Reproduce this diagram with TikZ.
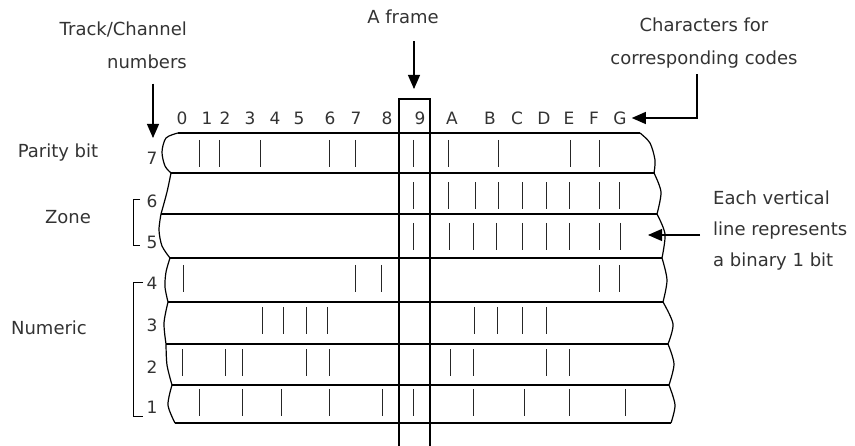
\documentclass[tikz,border=0pt]{standalone}
\usepackage{fontspec}
\setmainfont{DejaVu Sans}
\usetikzlibrary{arrows.meta}

\begin{document}
\begin{tikzpicture}[
		x=1pt, y=-1pt
		,lbl/.style={font=\fontsize{18}{33}\selectfont, text=black!80, inner sep=3pt}
		,num/.style={font=\fontsize{17}{20}\selectfont, text=black!80, inner sep=1pt}
		,tape/.style={line width=1.2pt}
		,bit/.style={line width=1pt, black!85}
		,brk/.style={line width=.9pt}
		,arr/.style={line width=1.1pt, -{Triangle[length=14pt,width=12pt]}}
	]
		\useasboundingbox (0,0) rectangle (855,446);

		% texts round the tape
		\node[lbl, align=right, anchor=east] (trk) at (190,45) {Track/Channel\\numbers};
		\node[lbl] (fr) at (403,17) {A frame};
		\node[lbl, align=center] (chr) at (704,43) {Characters for\\corresponding codes};
		\node[lbl, align=left, anchor=west, font=\fontsize{18}{31}\selectfont] (ev) at (710,231) {Each vertical\\line represents\\a binary 1 bit};
		\node[lbl] (par) at (58,153) {Parity bit};
		\node[lbl] (zn) at (68,217) {Zone};
		\node[lbl] (nm) at (49,328) {Numeric};

		% track numbers and characters
		\foreach \t/\y in {7/158,6/201,5/242,4/283,3/325,2/367,1/407}
			\node[num] (t\t) at (152,\y) {\t};
		\foreach \c/\x in {0/182,1/207,2/225,3/250,4/275,5/299,6/330,7/356,8/387,9/420,A/452,B/490,C/517,D/544,E/569,F/594,G/620}
			\node[num] (c\c) at (\x,118) {\c};

		% tape
		\foreach \y/\a/\b in {133/178/640,173/171/655,214/161/657,258/170/662,302/168/663,344/166/668,385/172/669,423/175/671}
			\draw[tape] (\a,\y) -- (\b,\y);
		\draw[tape] plot[smooth] coordinates {(178,133) (166,138) (162,152) (165,166) (171,173)}
			plot[smooth] coordinates {(171,173) (167,192) (161,214)}
			plot[smooth] coordinates {(161,214) (159,230) (162,246) (170,258)}
			plot[smooth] coordinates {(170,258) (166,272) (165,287) (168,302)}
			plot[smooth] coordinates {(168,302) (164,323) (166,344)}
			plot[smooth] coordinates {(166,344) (167,365) (172,385)}
			plot[smooth] coordinates {(172,385) (168,405) (175,423)};
		\draw[tape] plot[smooth] coordinates {(640,133) (650,143) (655,160) (654,173)}
			plot[smooth] coordinates {(654,173) (661,192) (657,214)}
			plot[smooth] coordinates {(657,214) (665,234) (662,258)}
			plot[smooth] coordinates {(662,258) (667,280) (663,302)}
			plot[smooth] coordinates {(663,302) (673,324) (668,344)}
			plot[smooth] coordinates {(668,344) (674,364) (669,385)}
			plot[smooth] coordinates {(669,385) (675,405) (671,423)};

		% 1 bits
		\foreach \y/\xs in {153.5/{199,219,260,329,355,413,448,498,570,599},%
				196/{413,448,475,498,522,546,569,599,619},%
				236.5/{413,449,473,496,522,546,569,599,620},%
				278.5/{183,355,381,599,619},%
				320.5/{262,283,306,327,474,497,522,546},%
				363/{182,225,242,306,329,450,473,546,569},%
				402.5/{199,242,281,329,382,413,473,524,569,625}}
			\foreach \x in \xs
				\draw[bit] (\x,\y-13.5) -- (\x,\y+13.5);

		% frame
		\draw[tape] (399,446) |- (430,99) -- (430,446);

		% brackets
		\draw[brk] (140,199) -| (133,245) -- (140,245);
		\draw[brk] (143,282) -| (133,416) -- (143,416);

		% arrows
		\coordinate (trkend) at (153,138);
		\coordinate (frtip) at (414,89);
		\coordinate (evtip) at (648,235);
		\draw[arr, shorten <=12pt] (trk.south -| trkend) -- (trkend);
		\draw[arr, shorten <=14pt] (fr.south -| frtip) -- (frtip);
		\draw[arr, shorten <=3pt, shorten >=4pt] ([xshift=-7pt]chr.south) |- (cG.east);
		\draw[arr, shorten <=10pt] (ev.west |- evtip) -- (evtip);
	\end{tikzpicture}
\end{document}
